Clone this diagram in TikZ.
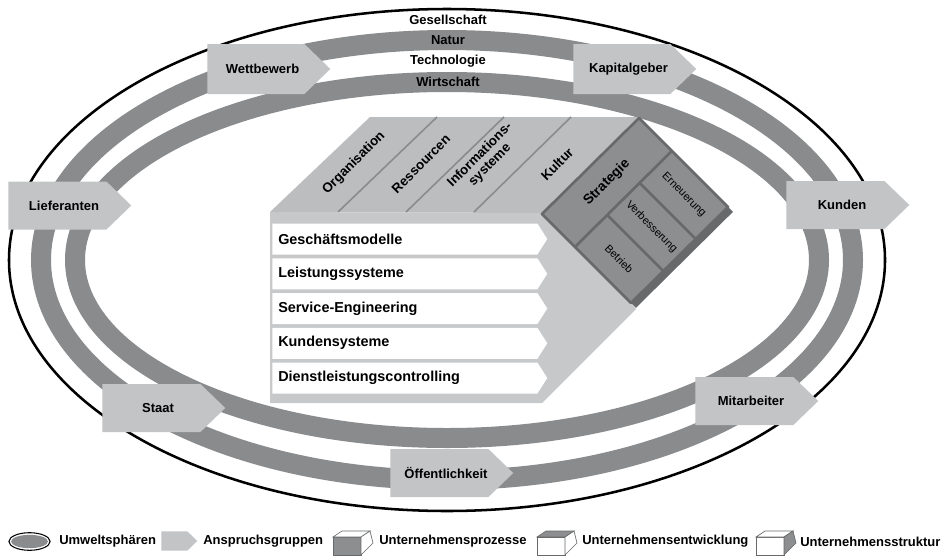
\documentclass[tikz,border=0pt]{standalone}
\usepackage{fontspec}
\setmainfont{Liberation Sans}
\usetikzlibrary{shapes.symbols}

\definecolor{bandgray}{HTML}{898B8D}
\definecolor{boxgray}{HTML}{C2C4C6}
\definecolor{topgray}{HTML}{BBBDBF}
\definecolor{frontgray}{HTML}{C6C8CA}
\definecolor{facegray}{HTML}{8C8E90}
\definecolor{edgegray}{HTML}{67696B}

% small cube for the legend: x, front, top, side
\newcommand\legcube[4]{%
  \filldraw[fill=#2, draw=edgegray, line width=0.5pt] (#1,537) rectangle ++(28,18);
  \filldraw[fill=#3, draw=edgegray, line width=0.5pt] (#1,537) -- ++(9,-6) -- ++(28,0) -- ++(-9,6) -- cycle;
  \filldraw[fill=#4, draw=edgegray, line width=0.5pt] (#1+28,537) -- ++(9,-6) -- ++(3,12) -- (#1+28,555) -- cycle;
}

\begin{document}
\begin{tikzpicture}
  [x=0.75pt, y=-0.75pt,
   sphere/.style={draw=bandgray, line width=15pt},
   spherelabel/.style={font=\fontsize{9.75}{11}\selectfont\bfseries},
   group/.style={signal, signal to=east, signal pointer angle=88, fill=boxgray,
     minimum width=92.25pt, minimum height=36pt, anchor=west, inner sep=0pt,
     execute at begin node={\hspace*{10pt}},
     font=\fontsize{9.75}{11}\selectfont\bfseries},
   process/.style={signal, signal to=east, signal pointer angle=115, fill=white,
     minimum width=206.25pt, minimum height=23.25pt, anchor=west, inner sep=0pt},
   proclabel/.style={anchor=west, inner sep=0pt, font=\fontsize{10.8}{13}\selectfont\bfseries},
   structlabel/.style={rotate=45, align=center, inner sep=0pt, font=\fontsize{10}{10.5}\selectfont\bfseries},
   devlabel/.style={rotate=-45, inner sep=0pt, font=\fontsize{8.2}{10}\selectfont},
   legendtext/.style={anchor=west, inner sep=0pt, font=\fontsize{9.75}{11}\selectfont\bfseries}]

  \fill[white] (0,0) rectangle (952,557);
  \useasboundingbox (0,0) rectangle (952,557);

  % spheres
  \draw[line width=1.9pt] (447,260) ellipse [x radius=328.5pt, y radius=188.25pt];
  \draw[sphere] (447,260) ellipse [x radius=304.5pt, y radius=165pt];
  \draw[sphere] (447,260) ellipse [x radius=279pt, y radius=133.5pt];
  \node[spherelabel] (gesellschaft) at (448,20) {Gesellschaft};
  \node[spherelabel] (natur) at (448,40) {Natur};
  \node[spherelabel] (technologie) at (448,61) {Technologie};
  \node[spherelabel] (wirtschaft) at (448,82) {Wirtschaft};

  % cube: top and front
  \fill[topgray] (270,212) -- (370,117) -- (638,117) -- (542,213) -- cycle;
  \foreach \i in {1,2,3}
    \draw[bandgray, line width=1.2pt] (370+67*\i,117) -- (270+68*\i,212);
  \fill[frontgray] (270,212) -- (542,213) -- (631,303) -- (636,309) -- (542,403) -- (270,403) -- cycle;

  \node[structlabel] (organisation) at (354,163) {Organisation};
  \node[structlabel] (ressourcen) at (421,164) {Ressourcen};
  \node[structlabel] (info) at (485,160) {Informations-\\systeme};
  \node[structlabel] (kultur) at (557,164) {Kultur};

  % cube: side
  \begin{scope}[shift={(542,214)}, x={(72.75pt,72pt)}, y={(66.75pt,-66.75pt)}]
    \fill[edgegray] (0,1) -- (1,1) -- (1,1.055) -- (0,1.055) -- cycle;
    \fill[facegray] (0,0) -- (1,0) -- (1,1) -- (0,1) -- cycle;
    \draw[edgegray, line width=2pt, line join=round] (0,0) -- (1,0) -- (1,1) -- (0,1) -- cycle
      (0,0.37) -- (1,0.37) (1/3,0.37) -- (1/3,1) (2/3,0.37) -- (2/3,1);
    \node[structlabel, font=\fontsize{10.3}{11}\selectfont\bfseries] (strategie) at (0.5,0.185) {Strategie};
    \node[devlabel] (betrieb) at (1/6,0.685) {Betrieb};
    \node[devlabel] (verbesserung) at (0.5,0.685) {Verbesserung};
    \node[devlabel] (erneuerung) at (5/6,0.685) {Erneuerung};
  \end{scope}

  % processes
  \foreach \name/\txt [count=\i from 0] in {gm/Geschäftsmodelle, ls/Leistungssysteme,
      se/Service-Engineering, ks/Kundensysteme, dc/Dienstleistungscontrolling} {
    \node[process] (\name) at (272,239+34.75*\i) {};
    \node[proclabel] (\name-text) at (278,239+34.75*\i) {\txt};
  }

  % stakeholders
  \node[group, minimum height=37.5pt] (wettbewerb) at (207,69) {Wettbewerb};
  \node[group, minimum height=37.5pt] (kapitalgeber) at (573,69) {Kapitalgeber};
  \node[group] (lieferanten) at (8,205.5) {Lieferanten};
  \node[group] (kunden) at (786,205) {Kunden};
  \node[group] (staat) at (102,408) {Staat};
  \node[group] (oeffentlichkeit) at (390,473) {Öffentlichkeit};
  \node[group] (mitarbeiter) at (695,401) {Mitarbeiter};

  % legend
  \draw[line width=0.8pt, fill=white] (29.5,541.5) ellipse [x radius=15.4pt, y radius=6.6pt];
  \fill[bandgray] (29.5,541.5) ellipse [x radius=13.8pt, y radius=5pt];
  \node[legendtext] (l-umwelt) at (59,541.5) {Umweltsphären};
  \node[group, minimum width=27pt, minimum height=14.5pt] (l-arrow) at (161,541) {};
  \node[legendtext] (l-anspruch) at (203,541.5) {Anspruchsgruppen};
  \legcube{333}{facegray}{white}{white}
  \node[legendtext] (l-prozesse) at (379,541.5) {Unternehmensprozesse};
  \legcube{537}{white}{facegray}{white}
  \node[legendtext] (l-entwicklung) at (582,541.5) {Unternehmensentwicklung};
  \legcube{756}{white}{white}{facegray}
  \node[legendtext] (l-struktur) at (800,541.5) {Unternehmensstruktur};
\end{tikzpicture}
\end{document}
